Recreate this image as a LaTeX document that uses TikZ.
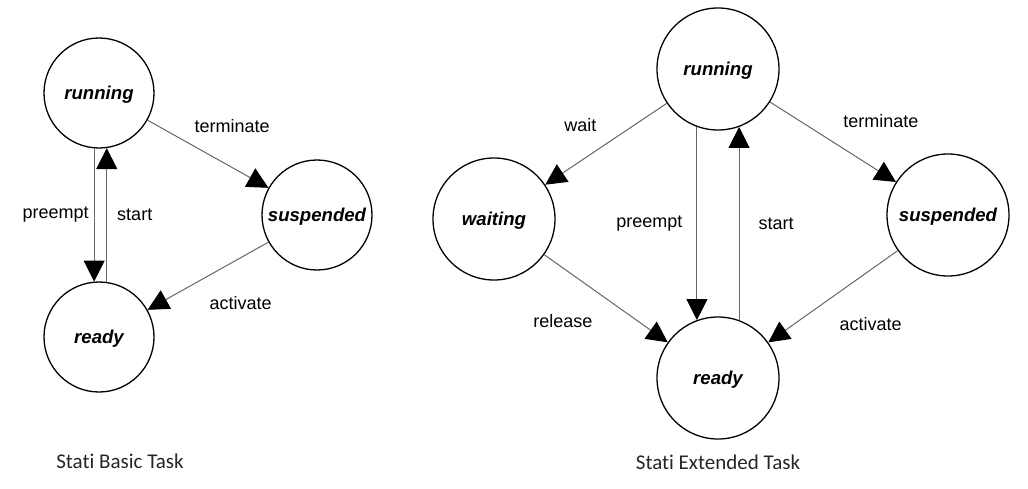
\documentclass[tikz,border=0pt]{standalone}
\usepackage{fontspec}
\setmainfont{Liberation Sans}
\newfontfamily\capfont[Ligatures=NoCommon]{Carlito}
\usetikzlibrary{positioning,arrows.meta}

\begin{document}
\begin{tikzpicture}[on grid,
     state node/.style={circle,draw,line width=0.65pt,inner sep=0pt,text depth=0pt,
       font=\fontsize{9.3}{11}\selectfont\bfseries\itshape},
     basic node/.style={state node,minimum size=55pt},
     ext node/.style={state node,minimum size=61pt},
     arr/.style={draw=black!60,line width=0.5pt,
       -{Triangle[length=10.5pt,width=10.5pt,color=black]}},
     lab/.style={inner sep=0pt,font=\fontsize{9}{11}\selectfont},
     caption/.style={font=\capfont\fontsize{10.5}{12}\selectfont,text=black!85}]

      \useasboundingbox (0,0) rectangle (514pt,-244pt);

      % basic task
      \node[basic node] (runL) at (49.5pt,-46.5pt) {running};
      \node[basic node] (susL) [below right=61pt and 109pt of runL] {suspended};
      \node[basic node] (rdyL) [below=122pt of runL] {ready};

      \draw[arr] (runL) -- node[lab,pos=.7,above=17pt] {terminate} (susL);
      \draw[arr] (susL) -- node[lab,pos=.23,below=19pt] {activate} (rdyL);
      \draw[arr] (runL.265) -- node[lab,left=2.5pt] {preempt} (rdyL.95);
      \draw[arr] (rdyL.82) -- node[lab,right=5pt] {start} (runL.278);

      \node[caption] (capL) at (60pt,-230.5pt) {Stati Basic Task};

      % extended task
      \node[ext node] (runR) at (359pt,-34.5pt) {running};
      \node[ext node] (waitR) [below left=75pt and 112pt of runR] {waiting};
      \node[ext node] (susR) [below right=73pt and 115pt of runR] {suspended};
      \node[ext node] (rdyR) [below=154.5pt of runR] {ready};

      \draw[arr] (runR) -- node[lab,pos=.71,above=14.5pt] {wait} (waitR);
      \draw[arr] (runR) -- node[lab,pos=.88,above=22pt] {terminate} (susR);
      \draw[arr] (waitR) -- node[lab,pos=.15,below=23pt] {release} (rdyR);
      \draw[arr] (susR) -- node[lab,pos=.21,below=23.5pt] {activate} (rdyR);
      \draw[arr] (runR.250) -- node[lab,left=7pt] {preempt} (rdyR.110);
      \draw[arr] (rdyR.70) -- node[lab,right=9.5pt] {start} (runR.290);

      \node[caption] (capR) at (359pt,-231pt) {Stati Extended Task};
    \end{tikzpicture}
\end{document}
